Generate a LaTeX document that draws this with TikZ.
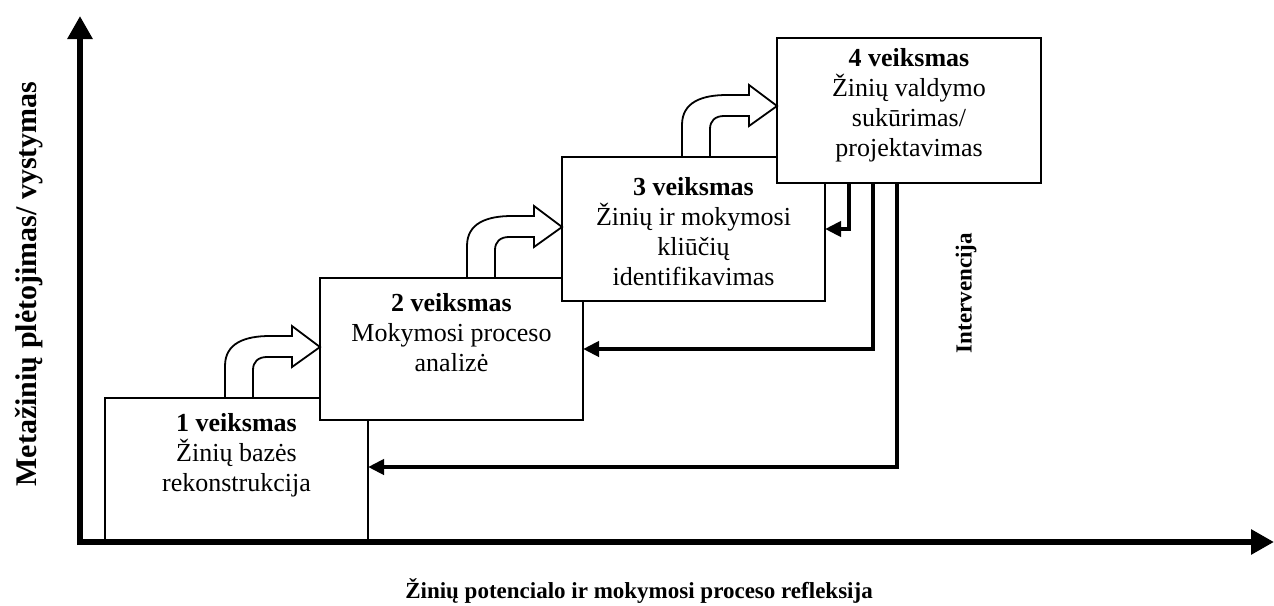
\documentclass[tikz,border=0pt]{standalone}
\usepackage{fontspec}
\setmainfont{Liberation Serif}
\usetikzlibrary{arrows.meta,calc}

\begin{document}
\begin{tikzpicture}[x=1pt,y=-1pt,
  stage/.style={draw, line width=1.8pt, fill=white, minimum width=263pt,
    minimum height=142pt, inner sep=0pt, outer sep=0pt},
  stagetext/.style={align=center, font=\fontsize{26}{30}\selectfont, inner sep=0pt},
  axis/.style={line width=6pt, -{Triangle[length=23pt,width=24pt]}},
  feedback/.style={line width=4pt, -{Triangle[length=16pt,width=15pt]}},
  axislabel/.style={font=\bfseries\fontsize{23}{27}\selectfont, inner sep=0pt},
  turn/.pic={
    \draw[line width=1.8pt, fill=white]
      (0,0) -- (0,-32) .. controls (0,-55) and (20,-62) .. (45,-62)
      -- (67,-62) -- (67,-72) -- (95,-51) -- (67,-31) -- (67,-41)
      -- (42,-41) .. controls (33,-41) and (28,-36) .. (28,-28)
      -- (28,0) -- cycle;
  }
]
\useasboundingbox (0,0) rectangle (1274,605);

% the four stages, each one overlapping the previous
\node[stage] (b1) at (236.5,469) {};
\node[stage] (b2) at (451.5,349) {};
\node[stage, minimum height=144pt] (b3) at (693.5,229) {};
\node[stage, minimum width=264pt, minimum height=145pt] (b4) at (909,110.5) {};

\node[stagetext] (t1) at ($(b1.center)+(0,-14)$)
  {\textbf{1 veiksmas}\\Žinių bazės\\rekonstrukcija};
\node[stagetext] (t2) at ($(b2.center)+(0,-16)$)
  {\textbf{2 veiksmas}\\Mokymosi proceso\\analizė};
\node[stagetext] (t3) at ($(b3.center)+(0,3)$)
  {\textbf{3 veiksmas}\\Žinių ir mokymosi\\kliūčių\\identifikavimas};
\node[stagetext] (t4) at ($(b4.center)+(0,-5)$)
  {\textbf{4 veiksmas}\\Žinių valdymo\\sukūrimas/\\projektavimas};

% bent block arrows from one stage to the next
\pic at ($(b2.west |- b1.north)+(-95,0)$) {turn};
\pic at ($(b3.west |- b2.north)+(-95,0)$) {turn};
\pic at ($(b4.west |- b3.north)+(-95,0)$) {turn};

% feedback from stage 4 to the earlier stages
\draw[feedback] ($(b4.south west)+(72,0)$) |- (b3.east);
\draw[feedback] ($(b4.south west)+(96,0)$) |- (b2.east);
\draw[feedback] ($(b4.south west)+(120,0)$) |- ($(b1.east)+(0,-2)$);

% axes
\coordinate (ytop) at (80,16);
\coordinate (xend) at (1274,542);
\draw[axis] (80,545) -- (ytop);
\draw[axis] (77,542) -- (xend);

\node[axislabel, font=\bfseries\fontsize{30}{33}\selectfont, rotate=90] (ylab) at (29,284)
  {Metažinių plėtojimas/ vystymas};
\node[axislabel, rotate=90] (interv) at (966,293) {Intervencija};
\node[axislabel] (xlab) at (639,591)
  {Žinių potencialo ir mokymosi proceso refleksija};
\end{tikzpicture}
\end{document}
